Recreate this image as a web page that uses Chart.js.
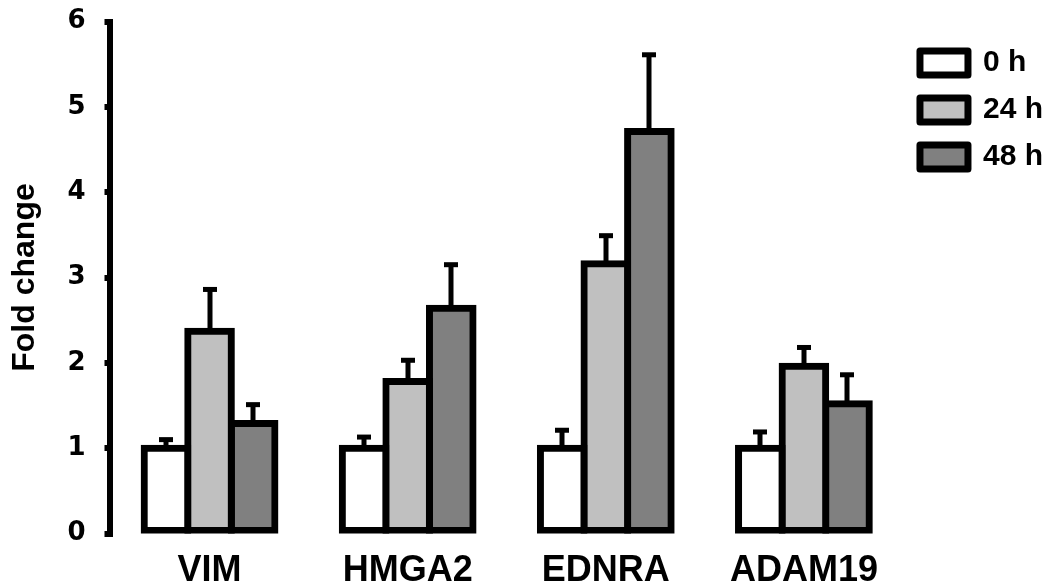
<!DOCTYPE html>
<html>
<head>
<meta charset="utf-8">
<script src="https://cdn.jsdelivr.net/npm/chart.js@4.4.1/dist/chart.umd.min.js"></script>
<style>
html,body{margin:0;padding:0;background:#fff;}
#wrap{width:1053px;height:585px;}
</style>
</head>
<body>
<div id="wrap"><canvas id="c" width="1053" height="585"></canvas></div>
<script>
const categories = ['VIM', 'HMGA2', 'EDNRA', 'ADAM19'];
const seriesNames = ['0 h', '24 h', '48 h'];
const values0h = [1.0, 1.0, 1.0, 1.0];
const values24h = [2.37, 1.78, 3.16, 1.96];
const values48h = [1.29, 2.64, 4.71, 1.52];
const err0h = [0.10, 0.13, 0.21, 0.19];
const err24h = [0.49, 0.25, 0.33, 0.22];
const err48h = [0.22, 0.51, 0.90, 0.34];
const yTicks = [0, 1, 2, 3, 4, 5, 6];

const allVals = [values0h, values24h, values48h];
const allErr = [err0h, err24h, err48h];
const fills = ['#ffffff', '#c0c0c0', '#808080'];
const BW = 7;
const FONT = "'Liberation Sans', Arial, sans-serif";
const TICKFONT = "'DejaVu Sans', 'Liberation Sans', sans-serif";

const errorBars = {
  id: 'errorBars',
  afterDatasetsDraw(chart) {
    const ctx = chart.ctx;
    const y = chart.scales.y;
    ctx.save();
    ctx.fillStyle = '#000';
    chart.data.datasets.forEach((ds, d) => {
      const meta = chart.getDatasetMeta(d);
      meta.data.forEach((bar, i) => {
        const top = y.getPixelForValue(allVals[d][i] + allErr[d][i]);
        const x = Math.round(bar.x);
        ctx.fillRect(x - 2.5, top, 5, bar.y - top);
        ctx.fillRect(x - 7, top - 2.5, 14, 5);
      });
    });
    ctx.restore();
  }
};

new Chart(document.getElementById('c'), {
  type: 'bar',
  data: {
    labels: categories,
    datasets: allVals.map((vals, d) => ({
      label: seriesNames[d],
      data: vals,
      backgroundColor: fills[d],
      borderColor: '#000',
      borderWidth: BW,
      borderSkipped: false,
      inflateAmount: BW / 2,
      categoryPercentage: 0.66,
      barPercentage: 1.0
    }))
  },
  options: {
    responsive: false,
    animation: false,
    devicePixelRatio: 1,
    layout: { padding: { top: 0, right: 0, bottom: 0, left: 6 } },
    plugins: {
      tooltip: { enabled: false },
      legend: {
        position: 'right',
        align: 'start',
        maxWidth: 152,
        title: { display: true, text: ' ', font: { size: 10 }, padding: { top: 0, bottom: 19 } },
        labels: {
          boxWidth: 48,
          boxHeight: 24,
          padding: 17,
          color: '#000',
          font: { family: FONT, size: 30, weight: 'bold' },
          generateLabels(chart) {
            return chart.data.datasets.map((ds, d) => ({
              text: ds.label,
              fillStyle: fills[d],
              strokeStyle: '#000',
              lineWidth: BW,
              lineJoin: 'round',
              fontColor: '#000',
              datasetIndex: d,
              hidden: false
            }));
          }
        }
      }
    },
    scales: {
      x: {
        grid: { display: false },
        border: { display: false },
        afterFit(scale) { scale.height = 51.5; },
        ticks: { color: '#000', font: { family: FONT, size: 36, weight: 'bold', lineHeight: 1.0 }, padding: 12 }
      },
      y: {
        min: 0,
        max: 6,
        afterBuildTicks(axis) { axis.ticks = yTicks.map(v => ({ value: v })); },
        afterFit(scale) { scale.paddingTop = 21.5; scale.paddingBottom = 0; },
        grid: { display: true, drawOnChartArea: false, drawTicks: true, tickLength: 6, lineWidth: 6, color: '#000' },
        border: { display: true, width: 6, color: '#000' },
        ticks: { color: '#000', font: { family: TICKFONT, size: 26, weight: 'bold' }, padding: 19 },
        title: { display: true, text: 'Fold change', color: '#000', font: { family: FONT, size: 32, weight: 'bold' }, padding: { top: 0, bottom: 4 } }
      }
    }
  },
  plugins: [errorBars]
});
</script>
</body>
</html>
